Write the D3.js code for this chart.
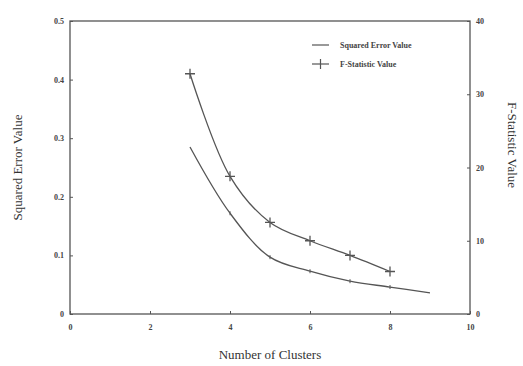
<!DOCTYPE html>
<html>
<head>
<meta charset="utf-8">
<script src="https://cdn.jsdelivr.net/npm/d3@7"></script>
<style>
  body { margin: 0; background: #fff; }
  svg { display: block; }
  text { font-family: "Liberation Serif", "DejaVu Serif", serif; }
</style>
</head>
<body>
<svg id="chart" width="523" height="366"></svg>
<script>
// Data
const clusters = [3, 4, 5, 6, 7, 8, 9]
const squaredError = [0.285, 0.172, 0.097, 0.073, 0.056, 0.046, 0.036]
const fClusters = [3, 4, 5, 6, 7, 8]
const fStatistic = [32.8, 18.8, 12.5, 10.0, 8.0, 5.8]
const xTicks = [0, 2, 4, 6, 8, 10]
const leftTicks = [0, 0.1, 0.2, 0.3, 0.4, 0.5]
const rightTicks = [0, 10, 20, 30, 40]

const svg = d3.select("#chart")
const margin = { top: 21, right: 53, bottom: 52, left: 70 }
const width = 523 - margin.left - margin.right
const height = 366 - margin.top - margin.bottom
const ink = "#555"
const serif = '"Liberation Serif", "DejaVu Serif", serif'

const x = d3.scaleLinear().domain([0, 10]).range([0, width])
const yL = d3.scaleLinear().domain([0, 0.5]).range([height, 0])
const yR = d3.scaleLinear().domain([0, 40]).range([height, 0])

const g = svg.append("g").attr("transform", `translate(${margin.left},${margin.top})`)

// Frame
g.append("rect")
  .attr("width", width)
  .attr("height", height)
  .attr("fill", "none")
  .attr("stroke", ink)
  .attr("stroke-width", 1.3)

const tickFont = (sel) =>
  sel.selectAll("text")
    .attr("fill", "#444")
    .attr("font-family", serif)
    .attr("font-weight", "bold")
    .attr("font-size", 8)

// Axes (ticks point inward)
const xAxis = g.append("g")
  .attr("transform", `translate(0,${height})`)
  .call(d3.axisBottom(x).tickValues(xTicks).tickSize(-3).tickPadding(10).tickFormat(d3.format("d")))
xAxis.select(".domain").remove()
xAxis.selectAll("line").attr("stroke", ink)
tickFont(xAxis)

const lAxis = g.append("g")
  .call(d3.axisLeft(yL).tickValues(leftTicks).tickSize(-3).tickPadding(6).tickFormat((d) => (d === 0 ? "0" : d3.format(".1f")(d))))
lAxis.select(".domain").remove()
lAxis.selectAll("line").attr("stroke", ink)
tickFont(lAxis)

const rAxis = g.append("g")
  .attr("transform", `translate(${width},0)`)
  .call(d3.axisRight(yR).tickValues(rightTicks).tickSize(-3).tickPadding(6))
rAxis.select(".domain").remove()
rAxis.selectAll("line").attr("stroke", ink)
tickFont(rAxis)

// Axis titles
const titleStyle = (sel) =>
  sel.attr("fill", "#333")
    .attr("font-family", serif)
    .attr("font-size", 13)
    .attr("text-anchor", "middle")

svg.append("text")
  .attr("x", margin.left + width / 2)
  .attr("y", 359)
  .text("Number of Clusters")
  .call(titleStyle)

svg.append("text")
  .attr("transform", `translate(22,${margin.top + height / 2}) rotate(-90)`)
  .text("Squared Error Value")
  .call(titleStyle)

svg.append("text")
  .attr("transform", `translate(508,145) rotate(90)`)
  .text("F-Statistic Value")
  .call(titleStyle)

// Smooth lines through the points
const seData = clusters.map((c, i) => ({ x: c, y: squaredError[i] }))
const fData = fClusters.map((c, i) => ({ x: c, y: fStatistic[i] }))

const seLine = d3.line().x((d) => x(d.x)).y((d) => yL(d.y)).curve(d3.curveCatmullRom.alpha(0.5))
const fLine = d3.line().x((d) => x(d.x)).y((d) => yR(d.y)).curve(d3.curveCatmullRom.alpha(0.5))

g.append("path")
  .datum(seData)
  .attr("fill", "none")
  .attr("stroke", ink)
  .attr("stroke-width", 1.3)
  .attr("d", seLine)

g.append("path")
  .datum(fData)
  .attr("fill", "none")
  .attr("stroke", ink)
  .attr("stroke-width", 1.3)
  .attr("d", fLine)

// Small tick markers on squared error
g.selectAll(".se-mark")
  .data(seData.slice(1, -1))
  .enter()
  .append("line")
  .attr("class", "se-mark")
  .attr("x1", (d) => x(d.x))
  .attr("x2", (d) => x(d.x))
  .attr("y1", (d) => yL(d.y) - 2)
  .attr("y2", (d) => yL(d.y) + 2)
  .attr("stroke", ink)
  .attr("stroke-width", 1)

// Plus markers on F-statistic
g.selectAll(".f-mark")
  .data(fData)
  .enter()
  .append("path")
  .attr("class", "f-mark")
  .attr("transform", (d) => `translate(${x(d.x)},${yR(d.y)})`)
  .attr("d", "M-5,0H5M0,-5V5")
  .attr("stroke", ink)
  .attr("stroke-width", 1.3)
  .attr("fill", "none")

// Legend
const legend = svg.append("g").attr("transform", "translate(312,45)")
const legendItems = ["Squared Error Value", "F-Statistic Value"]
legendItems.forEach((name, i) => {
  const row = legend.append("g").attr("transform", `translate(0,${i * 19})`)
  row.append("line")
    .attr("x1", 0).attr("x2", 17)
    .attr("stroke", ink).attr("stroke-width", 1.2)
  if (i === 1) {
    row.append("line")
      .attr("x1", 8.5).attr("x2", 8.5).attr("y1", -5).attr("y2", 5)
      .attr("stroke", ink).attr("stroke-width", 1.2)
  }
  row.append("text")
    .attr("x", 28)
    .attr("y", 3)
    .text(name)
    .attr("fill", "#444")
    .attr("font-family", serif)
    .attr("font-weight", "bold")
    .attr("font-size", 8)
})
</script>
</body>
</html>
